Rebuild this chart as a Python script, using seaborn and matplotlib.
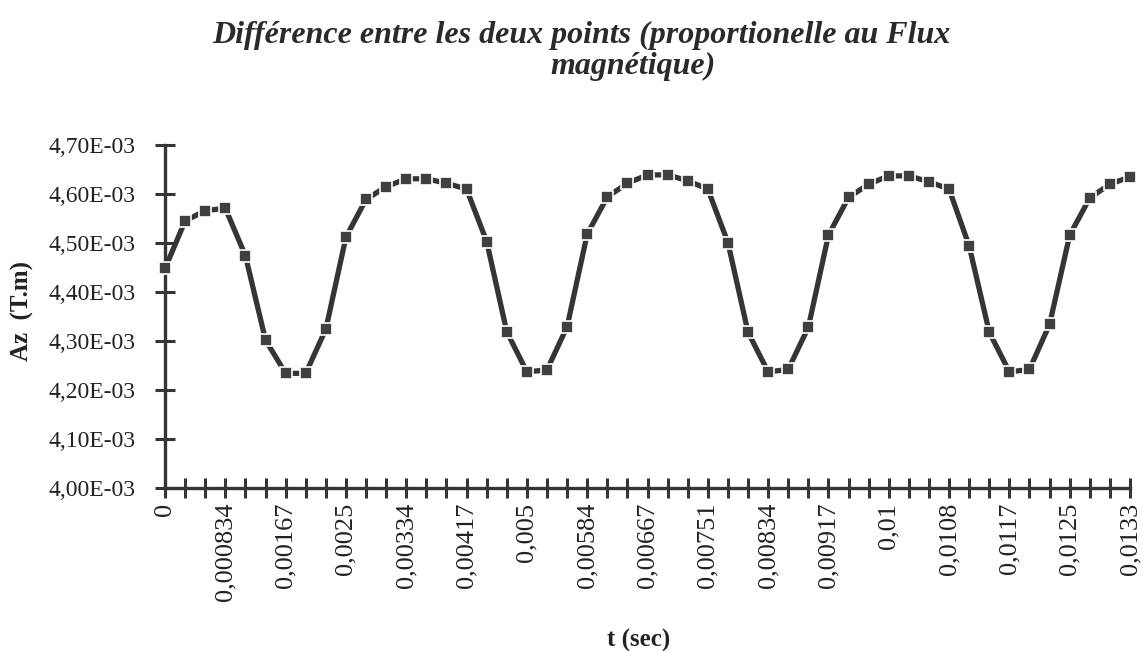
import matplotlib
matplotlib.use("Agg")
import matplotlib.pyplot as plt
from matplotlib.ticker import FixedLocator, NullFormatter
import numpy as np
import seaborn as sns

# Az (T.m) sampled at regular time steps
az = [4.448, 4.545, 4.566, 4.571, 4.474, 4.302, 4.234, 4.234, 4.324, 4.512,
      4.589, 4.615, 4.631, 4.631, 4.622, 4.610, 4.503, 4.319, 4.237, 4.241,
      4.329, 4.518, 4.594, 4.622, 4.639, 4.639, 4.627, 4.610, 4.501, 4.318,
      4.237, 4.242, 4.328, 4.516, 4.593, 4.620, 4.637, 4.637, 4.625, 4.610,
      4.494, 4.318, 4.237, 4.242, 4.334, 4.516, 4.592, 4.620, 4.635]
az = [v * 1e-3 for v in az]

# time labels shown under every third sample
t_labels = ["0", "0,000834", "0,00167", "0,0025", "0,00334", "0,00417", "0,005",
            "0,00584", "0,00667", "0,00751", "0,00834", "0,00917", "0,01",
            "0,0108", "0,0117", "0,0125", "0,0133"]
label_every = 3

y_ticks = [4.00e-3, 4.10e-3, 4.20e-3, 4.30e-3, 4.40e-3, 4.50e-3, 4.60e-3, 4.70e-3]
y_labels = ["4,00E-03", "4,10E-03", "4,20E-03", "4,30E-03", "4,40E-03",
            "4,50E-03", "4,60E-03", "4,70E-03"]

title_1 = "Différence entre les deux points (proportionelle au Flux"
title_2 = "magnétique)"

sns.set_theme(style="white")
plt.rcParams["font.family"] = ["Liberation Serif", "DejaVu Serif"]

W, H = 1143, 651
fig = plt.figure(figsize=(W / 100, H / 100), dpi=100)
fig.patch.set_facecolor("white")
ax = fig.add_axes([165 / W, 1 - 488 / H, (1130 - 165) / W, (488 - 145) / H])

ink = "#353535"
idx = np.arange(len(az))
sns.lineplot(x=idx, y=az, ax=ax, color=ink, linewidth=3.8, marker="s",
             markersize=9, markerfacecolor="#404040", markeredgecolor="white",
             markeredgewidth=1.2, clip_on=False, zorder=3)

ax.set_xlim(0, len(az) - 1)
ax.set_ylim(y_ticks[0], y_ticks[-1])

major = idx[::label_every]
ax.xaxis.set_major_locator(FixedLocator(major))
ax.set_xticklabels(t_labels, rotation=90, fontsize=19, color="#222222")
ax.xaxis.set_minor_locator(FixedLocator(idx))
ax.xaxis.set_minor_formatter(NullFormatter())

ax.set_yticks(y_ticks)
ax.set_yticklabels(y_labels, fontsize=17, color="#222222")

for side in ("top", "right"):
    ax.spines[side].set_visible(False)
for side in ("left", "bottom"):
    ax.spines[side].set_color(ink)
    ax.spines[side].set_linewidth(2.4)

ax.tick_params(axis="both", which="both", direction="inout", length=15,
               width=2.2, color=ink, bottom=True, left=True)
ax.tick_params(axis="x", which="major", pad=3)
ax.tick_params(axis="y", which="major", pad=14)
ax.grid(False)

ax.set_xlabel("")
ax.set_ylabel("")
fig.text(22 / W, 1 - 311 / H, "Az  (T.m)", rotation=90, ha="center", va="center",
         fontsize=18, fontweight="bold", color="#222222")
fig.text(639 / W, 1 - 640 / H, "t (sec)", ha="center", va="center",
         fontsize=18, fontweight="bold", color="#222222")

fig.text(581 / W, 1 - 35 / H, title_1, ha="center", va="center", fontsize=23,
         fontweight="bold", fontstyle="italic", color="#2a2a2a")
fig.text(633 / W, 1 - 66 / H, title_2, ha="center", va="center", fontsize=23,
         fontweight="bold", fontstyle="italic", color="#2a2a2a")

fig.savefig("out.png", dpi=100, facecolor="white")
